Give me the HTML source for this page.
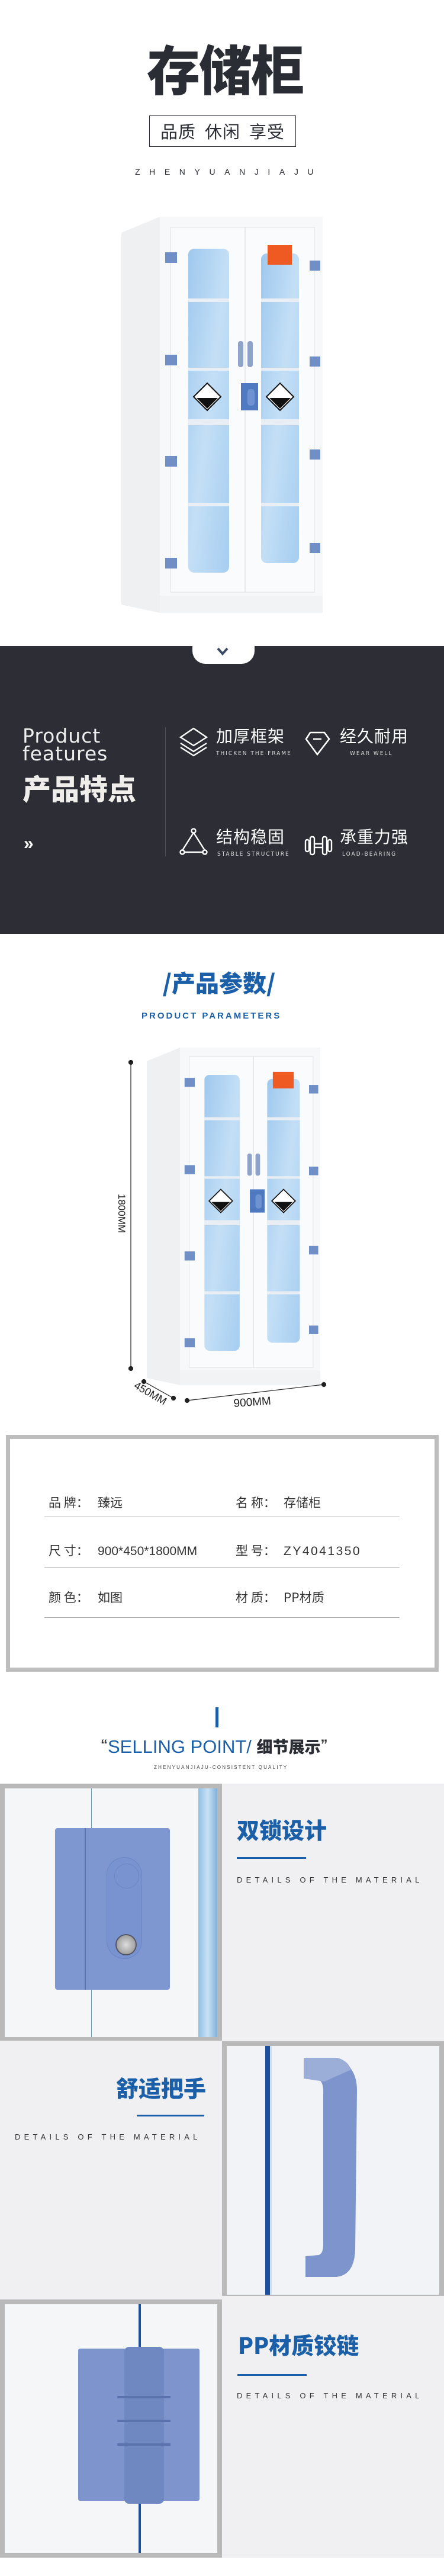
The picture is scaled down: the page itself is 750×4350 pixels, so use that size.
<!DOCTYPE html>
<html><head><meta charset="utf-8">
<style>
*{margin:0;padding:0;box-sizing:border-box}
body{width:750px;height:4350px;position:relative;background:#fff;font-family:"Liberation Sans","Noto Sans CJK SC",sans-serif;overflow:hidden}
.a{position:absolute}
.cn{font-family:"Noto Sans CJK SC","WenQuanYi Zen Hei",sans-serif}
.w{color:#fff}
.ft{font-size:28px;color:#fff;letter-spacing:1px;line-height:1}
.fs{font-size:10px;color:#ddd;letter-spacing:2px;line-height:1;font-family:"DejaVu Sans Condensed","Liberation Sans",sans-serif}
.row{font-size:21px;color:#333;line-height:1;white-space:nowrap}
.num{font-family:"Liberation Sans",sans-serif}
.hl{height:1px;background:#aaa;left:75px;width:600px}
.blueT{color:#1a5fa8;font-weight:900;font-size:38px;line-height:1}
.bline{height:3px;background:#1a5fa8}
.det{font-size:13px;letter-spacing:6.2px;color:#333;line-height:1}
</style></head><body>

<!-- header -->
<div class="a cn" style="left:235px;top:68px;width:290px;text-align:center;font-size:90px;font-weight:900;color:#2b2d35;line-height:1;letter-spacing:-2px">存储柜</div>
<div class="a cn" style="left:252px;top:195px;width:248px;height:53px;border:1.5px solid #2b2d35;text-align:center;font-size:29px;line-height:50px;color:#2b2d35;letter-spacing:1px">品质&nbsp;&nbsp;休闲&nbsp;&nbsp;享受</div>
<div class="a" style="left:228px;top:283px;width:310px;font-size:14px;letter-spacing:15.6px;color:#2b2d35;line-height:1">ZHENYUANJIAJU</div>

<svg width="0" height="0" style="position:absolute">
<defs>
<linearGradient id="gl" x1="0" y1="0" x2="1" y2="1"><stop offset="0" stop-color="#9fc8ee"/><stop offset="0.5" stop-color="#c3dff6"/><stop offset="1" stop-color="#a6cdf0"/></linearGradient>
<g id="cab">
<polygon points="0,27 65,0 65,669 0,655" fill="#eef0f2"/>
<rect x="65" y="0" width="275" height="669" fill="#f7f8f9"/>
<rect x="83" y="18" width="243" height="616" fill="#fafbfc" stroke="#dde2e6"/>
<line x1="209" y1="18" x2="209" y2="634" stroke="#d2d8de"/>
<rect x="113" y="54" width="69" height="547" rx="10" fill="url(#gl)"/>
<rect x="236" y="62" width="64" height="523" rx="10" fill="url(#gl)"/>
<g fill="#e8eef3"><rect x="113" y="138" width="69" height="6"/><rect x="236" y="138" width="64" height="6"/><rect x="113" y="255" width="69" height="5"/><rect x="236" y="255" width="64" height="5"/><rect x="113" y="342" width="69" height="10"/><rect x="236" y="342" width="64" height="10"/><rect x="113" y="483" width="69" height="6"/><rect x="236" y="483" width="64" height="6"/></g>
<g fill="#6f8fc6"><rect x="74" y="60" width="20" height="18"/><rect x="74" y="233" width="20" height="18"/><rect x="74" y="404" width="20" height="18"/><rect x="74" y="576" width="20" height="18"/><rect x="318" y="74" width="18" height="17"/><rect x="318" y="236" width="18" height="17"/><rect x="318" y="393" width="18" height="17"/><rect x="318" y="551" width="18" height="17"/></g>
<rect x="197" y="210" width="9" height="44" rx="4" fill="#8fa3c8"/><rect x="213" y="210" width="9" height="44" rx="4" fill="#8fa3c8"/>
<rect x="202" y="281" width="29" height="46" fill="#4f79c0"/><rect x="213" y="291" width="12" height="28" rx="5" fill="#6f93d0"/>
<g><polygon points="145,281 168,304 145,327 122,304" fill="#fff" stroke="#111" stroke-width="2"/><polygon points="127,306 163,306 145,324" fill="#111"/></g>
<g><polygon points="268,281 291,304 268,327 245,304" fill="#fff" stroke="#111" stroke-width="2"/><polygon points="250,306 286,306 268,324" fill="#111"/></g>
<rect x="247" y="48" width="41" height="33" fill="#ee5a22"/>
<rect x="65" y="640" width="275" height="29" fill="#f1f3f5"/>
</g>
</defs></svg>

<svg class="a" style="left:205px;top:366px" width="340" height="669" viewBox="0 0 340 669"><use href="#cab"/></svg>

<!-- dark band -->
<div class="a" style="left:0;top:1091px;width:750px;height:486px;background:#2c2d35"></div>
<div class="a" style="left:325px;top:1086px;width:105px;height:35px;background:#fff;border-radius:0 0 22px 22px"></div>
<svg class="a" style="left:366px;top:1093px" width="20" height="14"><polyline points="2,2 10,11 18,2" fill="none" stroke="#3e4d66" stroke-width="4"/></svg>

<div class="a w" style="left:38px;top:1228px;font-size:33px;line-height:30px;letter-spacing:1px;font-family:'DejaVu Sans','Liberation Sans',sans-serif;color:#eee">Product<br>features</div>
<div class="a w cn" style="left:38px;top:1305px;font-size:48px;font-weight:900;line-height:1;color:#f0eeea">产品特点</div>
<div class="a w" style="left:40px;top:1410px;font-size:30px;font-weight:bold;line-height:1">»</div>
<div class="a" style="left:279px;top:1228px;width:1px;height:218px;background:#4a5060"></div>

<svg class="a" style="left:303px;top:1228px" width="52" height="50"><g fill="none" stroke="#fff" stroke-width="2.4"><polygon points="24,2 46,17 24,31 2,17"/><polyline points="2,27 24,41 46,27"/><polyline points="2,34 24,48 46,34"/></g></svg>
<div class="a cn ft" style="left:365px;top:1228px">加厚框架</div>
<div class="a fs" style="left:365px;top:1268px">THICKEN THE FRAME</div>
<svg class="a" style="left:514px;top:1234px" width="46" height="44"><g fill="none" stroke="#fff" stroke-width="2.6"><polygon points="10,3 34,3 42,14 22,40 3,14"/><line x1="15" y1="14" x2="29" y2="14"/></g></svg>
<div class="a cn ft" style="left:574px;top:1228px">经久耐用</div>
<div class="a fs" style="left:591px;top:1268px">WEAR WELL</div>

<svg class="a" style="left:302px;top:1398px" width="54" height="48"><g fill="none" stroke="#fff" stroke-width="2.4"><line x1="25" y1="8" x2="6" y2="38"/><line x1="25" y1="8" x2="44" y2="38"/><line x1="10" y1="41" x2="40" y2="41"/><circle cx="25" cy="5" r="3.5"/><circle cx="6" cy="41" r="3.5"/><circle cx="44" cy="41" r="3.5"/></g></svg>
<div class="a cn ft" style="left:365px;top:1398px">结构稳固</div>
<div class="a fs" style="left:367px;top:1438px">STABLE STRUCTURE</div>
<svg class="a" style="left:514px;top:1410px" width="48" height="36"><g fill="none" stroke="#fff" stroke-width="2.4"><rect x="2" y="8" width="6" height="20" rx="3"/><rect x="10" y="3" width="7" height="30" rx="3"/><rect x="31" y="3" width="7" height="30" rx="3"/><rect x="40" y="8" width="6" height="20" rx="3"/><line x1="17" y1="15" x2="31" y2="15"/><line x1="17" y1="21" x2="31" y2="21"/></g></svg>
<div class="a cn ft" style="left:574px;top:1398px">承重力强</div>
<div class="a fs" style="left:578px;top:1438px">LOAD-BEARING</div>

<!-- params -->
<div class="a cn" style="left:250px;top:1638px;width:240px;text-align:center;font-size:40px;font-weight:900;color:#1a5fa8;line-height:1">/产品参数/</div>
<div class="a" style="left:239px;top:1708px;width:260px;font-size:15px;font-weight:bold;color:#1a5fa8;letter-spacing:3px;line-height:1">PRODUCT PARAMETERS</div>
<svg class="a" style="left:248px;top:1769px" width="293" height="570" viewBox="0 0 340 669" preserveAspectRatio="none"><use href="#cab"/></svg>
<svg class="a" style="left:0;top:1780px" width="750" height="620">
<g stroke="#222" stroke-width="1.2" fill="#222">
<line x1="221" y1="14" x2="221" y2="531"/><circle cx="221" cy="14" r="3.5"/><circle cx="221" cy="531" r="3.5"/>
<line x1="243" y1="553" x2="293" y2="581"/><circle cx="243" cy="553" r="3.5"/><circle cx="293" cy="581" r="3.5"/>
<line x1="316" y1="585" x2="547" y2="558"/><circle cx="316" cy="585" r="3.5"/><circle cx="547" cy="558" r="3.5"/>
</g>
<text transform="translate(200,236) rotate(90)" font-size="17" fill="#222" font-family="Liberation Sans">1800MM</text>
<text transform="translate(225,563) rotate(30)" font-size="18" fill="#222" font-family="Liberation Sans">450MM</text>
<text transform="translate(395,596) rotate(-4)" font-size="19" fill="#222" font-family="Liberation Sans">900MM</text>
</svg>

<div class="a" style="left:10px;top:2423px;width:731px;height:400px;border:7px solid #bdbdbd;background:#fff"></div>
<div class="a row cn" style="left:82px;top:2527px">品 牌：</div><div class="a row cn" style="left:165px;top:2527px">臻远</div>
<div class="a row cn" style="left:398px;top:2527px">名 称：</div><div class="a row cn" style="left:479px;top:2527px">存储柜</div>
<div class="a hl" style="top:2561px"></div>
<div class="a row cn" style="left:82px;top:2608px">尺 寸：</div><div class="a row num" style="left:165px;top:2609px">900*450*1800MM</div>
<div class="a row cn" style="left:398px;top:2608px">型 号：</div><div class="a row num" style="left:479px;top:2609px;letter-spacing:2.5px">ZY4041350</div>
<div class="a hl" style="top:2646px"></div>
<div class="a row cn" style="left:82px;top:2687px">颜 色：</div><div class="a row cn" style="left:165px;top:2687px">如图</div>
<div class="a row cn" style="left:398px;top:2687px">材 质：</div><div class="a row cn" style="left:479px;top:2687px">PP材质</div>
<div class="a hl" style="top:2731px"></div>

<!-- selling point -->
<div class="a" style="left:364px;top:2883px;width:5px;height:34px;background:#1a5fa8"></div>
<div class="a" style="left:170px;top:2934px;font-size:31px;line-height:1;white-space:nowrap"><span style="color:#333;font-weight:bold;font-size:24px;vertical-align:6px">“</span><span style="color:#1a5fa8">SELLING POINT/</span> <span class="cn" style="color:#2b2d35;font-weight:900;font-size:27px">细节展示</span><span style="color:#333;font-weight:bold;font-size:24px;vertical-align:6px">”</span></div>
<div class="a" style="left:260px;top:2981px;font-size:8px;letter-spacing:2.2px;color:#444;line-height:1;white-space:nowrap">ZHENYUANJIAJU-CONSISTENT QUALITY</div>

<div class="a" style="left:0;top:3012px;width:750px;height:1307px;background:#f0f0f2"></div>

<!-- panel 1 -->
<div class="a" style="left:0;top:3012px;width:375px;height:434px;background:#b9b9b9"></div>
<div class="a" style="left:8px;top:3020px;width:359px;height:420px;background:#f5f6f8;overflow:hidden">
<div class="a" style="left:146px;top:0;width:1px;height:420px;background:#6e9aa8"></div>
<div class="a" style="left:327px;top:0;width:32px;height:420px;background:linear-gradient(90deg,#8fc0e6,#c9e2f4,#7fb0d8)"></div>
<div class="a" style="left:85px;top:67px;width:194px;height:273px;background:#7e97d0;border-radius:4px"></div>
<div class="a" style="left:135px;top:67px;width:2px;height:273px;background:#5a74b0"></div>
<div class="a" style="left:173px;top:117px;width:58px;height:170px;background:#7893cf;border-radius:29px;box-shadow:0 0 0 1px #6a86c4"></div>
<div class="a" style="left:185px;top:127px;width:42px;height:42px;border-radius:50%;border:1px solid #6a86c4"></div>
<div class="a" style="left:187px;top:246px;width:36px;height:36px;border-radius:50%;background:radial-gradient(#ddd,#888);border:2px solid #556"></div>
</div>
<div class="a cn blueT" style="left:400px;top:3070px">双锁设计</div>
<div class="a bline" style="left:400px;top:3136px;width:117px"></div>
<div class="a det" style="left:400px;top:3168px">DETAILS OF THE MATERIAL</div>

<!-- panel 2 -->
<div class="a cn blueT" style="left:196px;top:3506px">舒适把手</div>
<div class="a bline" style="left:231px;top:3571px;width:114px"></div>
<div class="a det" style="left:25px;top:3602px">DETAILS OF THE MATERIAL</div>
<div class="a" style="left:375px;top:3447px;width:375px;height:430px;background:#b9b9b9"></div>
<div class="a" style="left:383px;top:3455px;width:359px;height:420px;background:#f2f3f6;overflow:hidden">
<div class="a" style="left:65px;top:0;width:8px;height:420px;background:#1c4f9c"></div>
<div class="a" style="left:73px;top:0;width:3px;height:420px;background:#cfe0f0"></div>
<svg class="a" style="left:125px;top:15px" width="100" height="385"><path d="M5,5 L62,5 Q95,20 95,60 L92,330 Q90,372 60,375 L8,375 L8,340 L30,338 Q38,336 38,320 L38,60 Q38,42 25,40 L5,40 Z" fill="#7d95cc"/><path d="M5,5 L62,5 Q80,10 85,25 L40,45 L5,40 Z" fill="#9aaed8"/></svg>
</div>

<!-- panel 3 -->
<div class="a" style="left:0;top:3883px;width:375px;height:436px;background:#b9b9b9"></div>
<div class="a" style="left:8px;top:3891px;width:359px;height:420px;background:#f5f6f8;overflow:hidden">
<div class="a" style="left:226px;top:0;width:4px;height:420px;background:#1c4f9c"></div>
<div class="a" style="left:124px;top:75px;width:205px;height:257px;background:#7d95cc;border-radius:3px"></div>
<div class="a" style="left:202px;top:72px;width:67px;height:265px;background:#6f88c2;border-radius:8px"></div>
<div class="a" style="left:190px;top:155px;width:90px;height:4px;background:#5a72ad"></div>
<div class="a" style="left:190px;top:195px;width:90px;height:4px;background:#5a72ad"></div>
<div class="a" style="left:190px;top:235px;width:90px;height:4px;background:#5a72ad"></div>
</div>
<div class="a cn blueT" style="left:402px;top:3940px">PP材质铰链</div>
<div class="a bline" style="left:401px;top:4009px;width:117px"></div>
<div class="a det" style="left:400px;top:4039px">DETAILS OF THE MATERIAL</div>
</body></html>
